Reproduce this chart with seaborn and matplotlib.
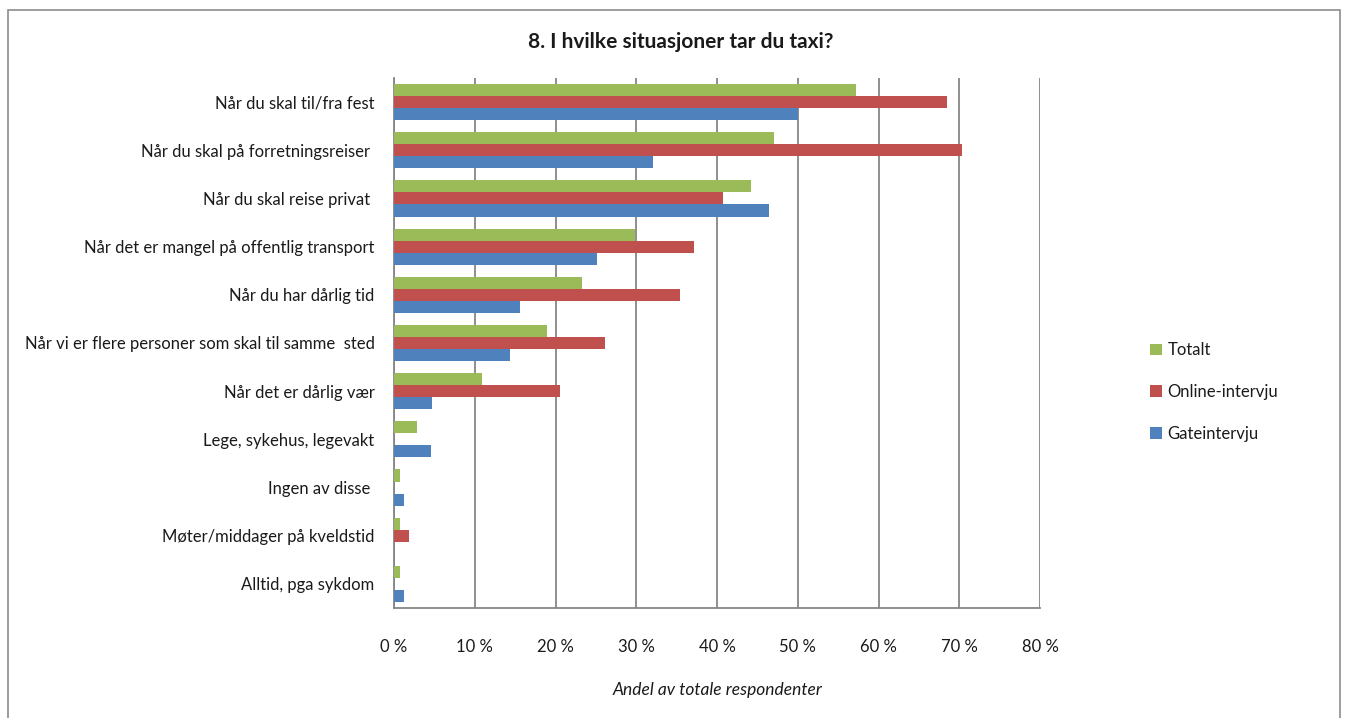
import matplotlib
matplotlib.use("Agg")
import matplotlib.pyplot as plt
import seaborn as sns
import pandas as pd
from matplotlib.patches import Rectangle

categories = [
    "Når du skal til/fra fest",
    "Når du skal på forretningsreiser ",
    "Når du skal reise privat ",
    "Når det er mangel på offentlig transport",
    "Når du har dårlig tid",
    "Når vi er flere personer som skal til samme  sted",
    "Når det er dårlig vær",
    "Lege, sykehus, legevakt",
    "Ingen av disse ",
    "Møter/middager på kveldstid",
    "Alltid, pga sykdom",
]
series_names = ["Totalt", "Online-intervju", "Gateintervju"]
totalt = [57.2, 47.1, 44.2, 29.8, 23.3, 19.0, 10.9, 2.9, 0.7, 0.7, 0.7]
online = [68.5, 70.4, 40.8, 37.1, 35.4, 26.1, 20.6, 0.0, 0.0, 1.9, 0.0]
gate = [50.0, 32.1, 46.4, 25.1, 15.6, 14.4, 4.7, 4.6, 1.3, 0.0, 1.3]
xtick_values = [0, 10, 20, 30, 40, 50, 60, 70, 80]
xtick_labels = ["0 %", "10 %", "20 %", "30 %", "40 %", "50 %", "60 %", "70 %", "80 %"]
title = "8. I hvilke situasjoner tar du taxi?"
xlabel = "Andel av totale respondenter"
colors = ["#9BBB59", "#C0504D", "#4F81BD"]

rows = []
for name, vals in zip(series_names, [totalt, online, gate]):
    for c, v in zip(categories, vals):
        rows.append({"Kategori": c, "Serie": name, "Verdi": v})
df = pd.DataFrame(rows)

sns.set_theme(style="white")
plt.rcParams["font.family"] = ["Lato", "DejaVu Sans"]

fig = plt.figure(figsize=(13.49, 7.18), dpi=100)
ax = fig.add_axes([394 / 1349, 1 - 608 / 718, (1040 - 394) / 1349, (608 - 78) / 718])

sns.barplot(data=df, y="Kategori", x="Verdi", hue="Serie", order=categories,
            hue_order=series_names, palette=colors, orient="h", width=0.75,
            saturation=1, ax=ax, zorder=3, linewidth=0, edgecolor="none")

ax.set_xlim(0, 80)
ax.set_xticks(xtick_values)
ax.set_xticklabels(xtick_labels, fontsize=12)
ax.tick_params(axis="y", labelsize=12, length=0, pad=14, labelcolor="#1a1a1a")
ax.tick_params(axis="x", length=0, pad=22, labelcolor="#1a1a1a")
ax.set_ylabel("")
ax.set_xlabel(xlabel, fontsize=12.5, fontstyle="italic", labelpad=20, color="#1a1a1a")
ax.grid(axis="x", color="#868686", linewidth=1.3, zorder=0)
ax.set_axisbelow(True)
for s in ["top", "right"]:
    ax.spines[s].set_visible(False)
for s in ["left", "bottom"]:
    ax.spines[s].set_color("#868686")
    ax.spines[s].set_linewidth(1.3)

fig.text(681 / 1349, 1 - 42 / 718, title, ha="center", va="center",
         fontsize=15, fontweight="bold", color="#1a1a1a")

leg = ax.legend(loc="center left", bbox_to_anchor=(1135 / 1349, 1 - 392 / 718),
                bbox_transform=fig.transFigure, frameon=False, fontsize=12,
                handlelength=0.7, handleheight=0.7, labelspacing=1.55, handletextpad=0.35)
for t in leg.get_texts():
    t.set_color("#1a1a1a")

fig.patches.append(Rectangle((8 / 1349, -0.05), (1340 - 8) / 1349, 1 - 10 / 718 + 0.05,
                             transform=fig.transFigure, fill=False,
                             edgecolor="#8c8c8c", linewidth=1.2))

fig.savefig("out.png", dpi=100)
